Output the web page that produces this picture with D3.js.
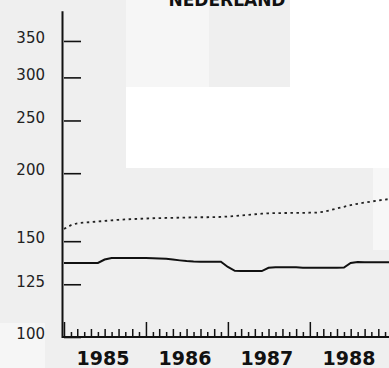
<!DOCTYPE html>
<html><head><meta charset="utf-8">
<script src="https://cdn.jsdelivr.net/npm/d3@7"></script>
<style>
html,body{margin:0;padding:0;background:#efefef;}
svg{display:block;}
</style></head>
<body>
<script>
// ---- data ----
const title = "NEDERLAND";
const startYear = 1985, startMonth = 0; // monthly series starting Jan 1985
const seriesSolid = [136.8,136.8,136.8,136.8,136.8,136.8,138.8,139.7,139.7,139.7,139.7,139.7,
  139.7,139.6,139.4,139.2,138.8,138.3,137.9,137.6,137.5,137.5,137.5,137.5,
  134.5,132.3,132.2,132.2,132.2,132.2,134.0,134.3,134.3,134.3,134.3,134.1,
  134.0,134.0,134.0,134.0,134.0,134.2,136.8,137.4,137.2,137.2,137.2,137.2,137.2];
const seriesDotted = [158.0,160.5,161.8,162.3,162.6,163.0,163.4,163.8,164.2,164.5,164.7,164.9,
  165.1,165.3,165.4,165.5,165.6,165.7,165.8,165.9,166.0,166.0,166.1,166.2,
  166.5,166.9,167.3,167.7,168.1,168.5,168.8,168.9,169.0,169.0,169.1,169.1,
  169.2,169.3,169.8,171.0,172.3,173.5,174.7,175.7,176.6,177.4,178.2,178.9,179.5];
const yTicks = [100,125,150,200,250,300,350];
const yearLabels = ["1985","1986","1987","1988"];

// ---- layout ----
const W = 389, H = 368;
const svg = d3.select("body").append("svg").attr("width", W).attr("height", H);

// scan-like background patches
const bg = svg.append("g");
bg.append("rect").attr("x",0).attr("y",0).attr("width",W).attr("height",H).attr("fill","#efefef");
bg.append("rect").attr("x",126).attr("y",0).attr("width",83).attr("height",87).attr("fill","#f6f6f6");
bg.append("rect").attr("x",290).attr("y",0).attr("width",99).attr("height",87).attr("fill","#ffffff");
bg.append("rect").attr("x",126).attr("y",87).attr("width",263).attr("height",81).attr("fill","#ffffff");
bg.append("rect").attr("x",373).attr("y",168).attr("width",16).attr("height",82).attr("fill","#f7f7f7");
bg.append("rect").attr("x",0).attr("y",323).attr("width",45).attr("height",45).attr("fill","#f6f6f6");

const dates = seriesSolid.map((d,i)=> new Date(startYear, startMonth + i, 1));
const x = d3.scaleTime().domain([new Date(1985,0,1), new Date(1989,0,1)]).range([64, 392]);
const y = d3.scaleLog().domain([100, 400]).range([337, 9.4]);

const ink = "#111";

// Title
svg.append("text").attr("x", 227).attr("y", 6).attr("text-anchor","middle")
  .attr("font-family","DejaVu Sans").attr("font-weight","bold").attr("font-size",17)
  .attr("fill", ink).text(title);

// Y axis (ticks inward)
const yAxis = d3.axisRight(y).tickValues(yTicks).tickSize(17).tickFormat("");
const gy = svg.append("g").attr("transform","translate(64,0)").call(yAxis);
gy.select(".domain").remove();
gy.selectAll(".tick line").attr("stroke", ink).attr("stroke-width",1.6);
svg.append("line").attr("x1",62.5).attr("x2",62.5).attr("y1",y(397)).attr("y2",338)
  .attr("stroke",ink).attr("stroke-width",2);
svg.append("g").selectAll("text").data(yTicks).join("text")
  .attr("x",45).attr("y",d=>y(d)-3).attr("dy","0.35em").attr("text-anchor","end")
  .attr("font-family","DejaVu Sans").attr("font-size",15).attr("fill","#222")
  .text(d=>d);

// X axis: monthly ticks upward
const months = d3.timeMonth.range(new Date(1985,0,1), new Date(1989,1,1));
const xAxis = d3.axisTop(x).tickValues(months).tickFormat("")
  .tickSize(0);
const gx = svg.append("g").attr("transform","translate(0,337)").call(xAxis);
gx.select(".domain").remove();
gx.selectAll(".tick line")
  .attr("y2", d => d.getMonth()===0 ? -15 : (d.getMonth()%2===0 ? -8 : -5))
  .attr("stroke", ink).attr("stroke-width",1.5);
svg.append("line").attr("x1",62).attr("x2",W).attr("y1",337).attr("y2",337)
  .attr("stroke",ink).attr("stroke-width",2);
svg.append("g").selectAll("text").data(yearLabels).join("text")
  .attr("x", d => (x(new Date(+d,0,1)) + x(new Date(+d+1,0,1)))/2 - 2)
  .attr("y", 365).attr("text-anchor","middle")
  .attr("font-family","DejaVu Sans").attr("font-weight","bold").attr("font-size",19)
  .attr("fill", ink).text(d=>d);

// Lines
const line = d3.line().x((d,i)=>x(dates[i])).y(d=>y(d)).curve(d3.curveLinear);
svg.append("path").datum(seriesDotted).attr("d", line)
  .attr("fill","none").attr("stroke","#222").attr("stroke-width",1.8)
  .attr("stroke-dasharray","2.5,3.5");
svg.append("path").datum(seriesSolid).attr("d", line)
  .attr("fill","none").attr("stroke",ink).attr("stroke-width",2);
</script>
</body></html>
